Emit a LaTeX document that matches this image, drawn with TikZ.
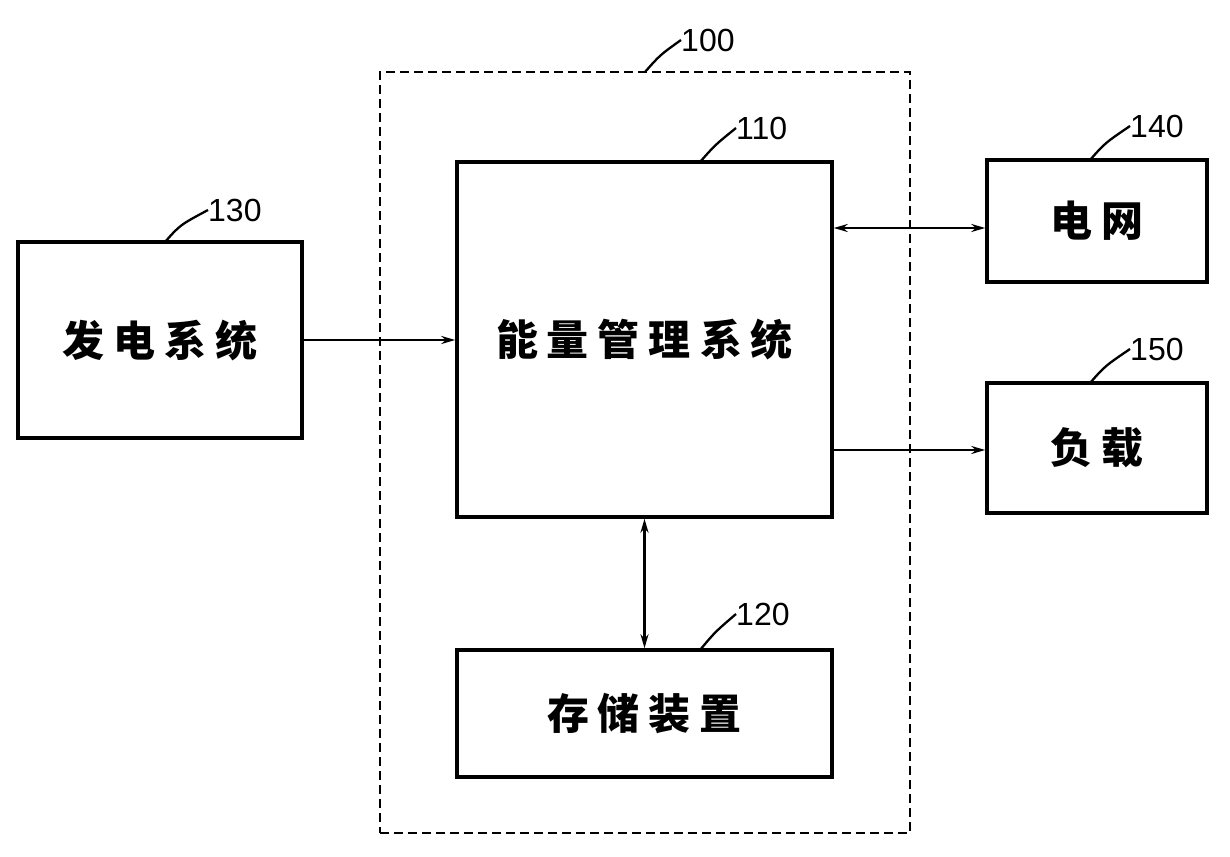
\documentclass[tikz,border=0pt]{standalone}
\usepackage{fontspec}
\setmainfont{Liberation Sans}
\newfontfamily\cjk{Noto Sans CJK SC}
\usetikzlibrary{arrows.meta}
\newcommand{\gp}{\hspace{9pt}}
\begin{document}
\begin{tikzpicture}[x=1pt,y=-1pt,
  box/.style={draw,line width=3.5pt,inner sep=0pt,font=\cjk\bfseries\fontsize{42}{46}\selectfont},
  arr/.style={line width=2.3pt,-{Stealth[length=14pt,width=8pt]}},
  darr/.style={line width=2.3pt,{Stealth[length=14pt,width=8pt]}-{Stealth[length=14pt,width=8pt]}},
  lead/.style={line width=2.3pt},
  num/.style={font=\fontsize{32}{36}\selectfont,anchor=west,inner sep=0pt}]
\useasboundingbox (0,0) rectangle (1230,856);
\node[draw,dash pattern=on 9pt off 5pt,line width=2pt,minimum width=530pt,minimum height=761pt] (b100) at (645,452.5) {};
\node[box,minimum width=284pt,minimum height=196pt] (b130) at (160,340) {发\gp 电\gp 系\gp 统};
\node[box,minimum width=375pt,minimum height=355pt] (b110) at (644.5,339.5) {能\gp 量\gp 管\gp 理\gp 系\gp 统};
\node[box,minimum width=220pt,minimum height=122pt] (b140) at (1097,221) {电\gp 网};
\node[box,minimum width=220pt,minimum height=130pt] (b150) at (1097,448) {负\gp 载};
\node[box,minimum width=375pt,minimum height=127pt] (b120) at (644.5,713.5) {存\gp 储\gp 装\gp 置};
\draw[arr] (b130.east |- 0,340) -- (b110.west |- 0,340);
\draw[darr] (b110.east |- 0,228) -- (b140.west |- 0,228);
\draw[arr] (b110.east |- 0,450) -- (b150.west |- 0,450);
\draw[darr] (b110.south) -- (b120.north);
\coordinate (l130) at (165,242); \coordinate (l100) at (645,72);
\coordinate (l110) at (700,162); \coordinate (l140) at (1090,160);
\coordinate (l150) at (1090,383); \coordinate (l120) at (700,650);
\node[num] (n130) at (208,210) {130};
\node[num] (n100) at (681,40) {100};
\node[num] (n110) at (736,128) {110};
\node[num] (n140) at (1130,126) {140};
\node[num] (n150) at (1130,349) {150};
\node[num] (n120) at (736,614) {120};
\draw[lead] (l130) .. controls (180,225) .. (n130.west);
\draw[lead] (l100) .. controls (660,55) .. (n100.west);
\draw[lead] (l110) .. controls (715,145) .. (n110.west);
\draw[lead] (l140) .. controls (1105,143) .. (n140.west);
\draw[lead] (l150) .. controls (1105,366) .. (n150.west);
\draw[lead] (l120) .. controls (715,632) .. (n120.west);
\end{tikzpicture}
\end{document}
